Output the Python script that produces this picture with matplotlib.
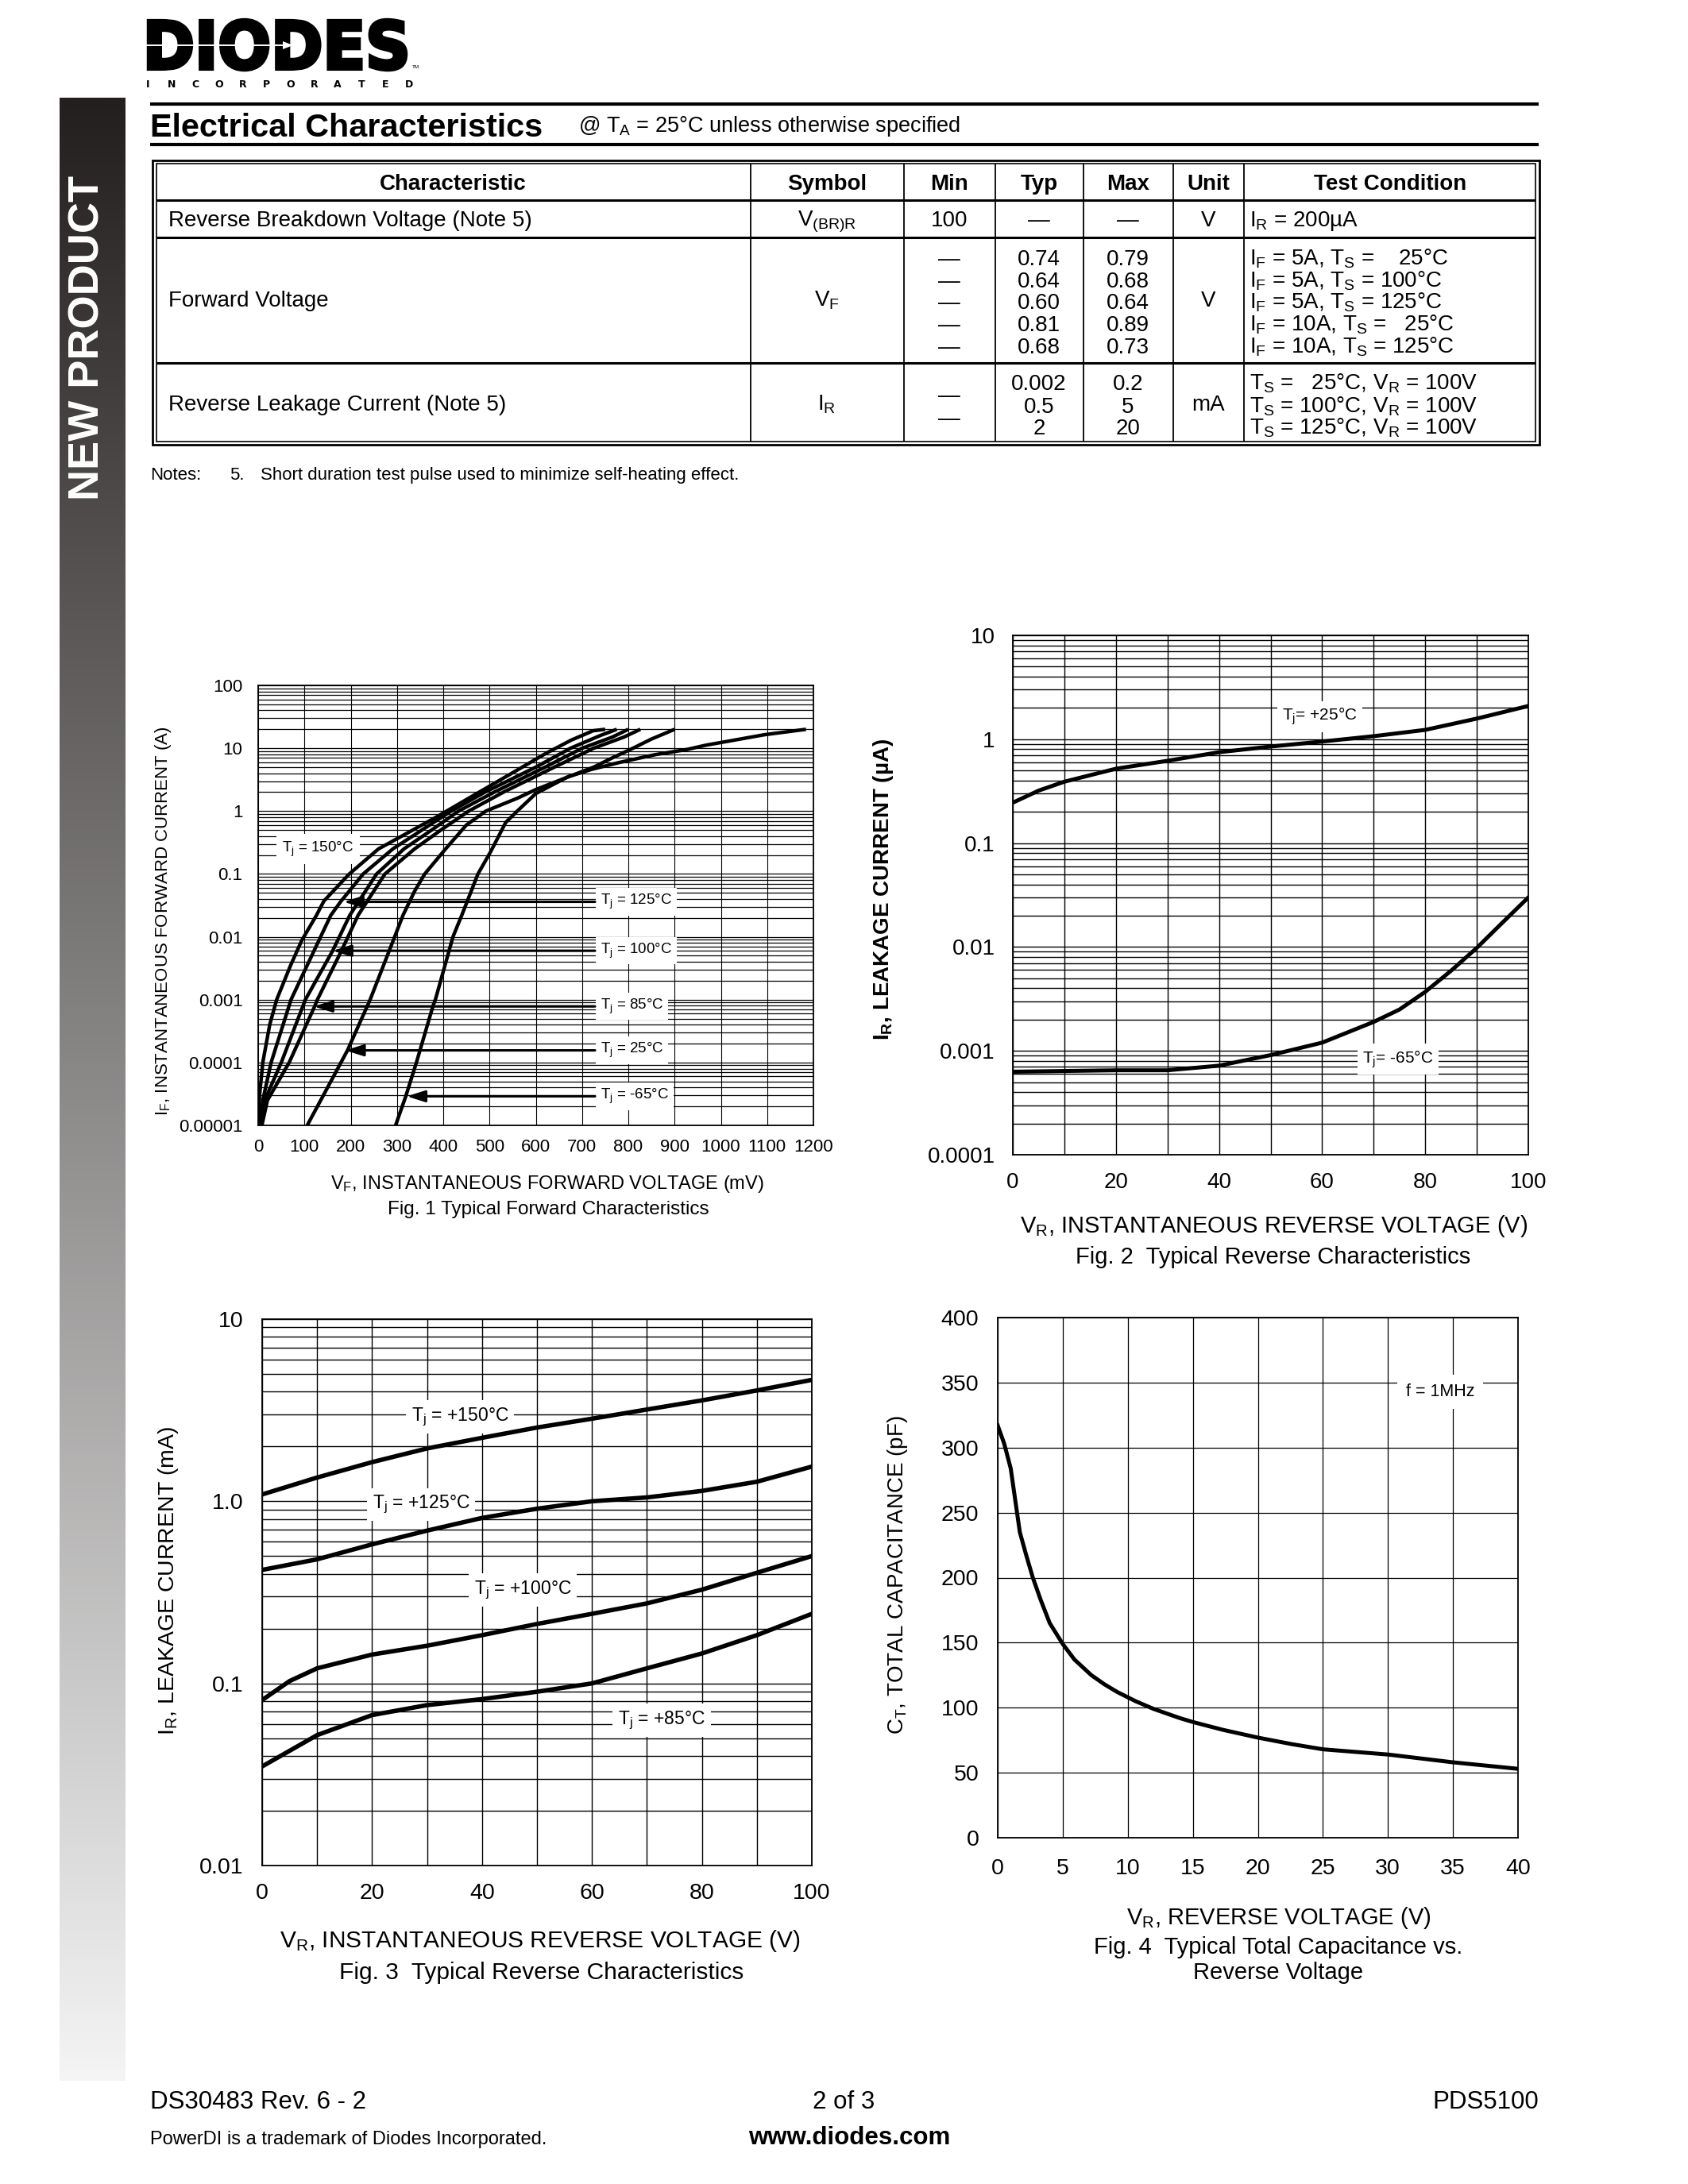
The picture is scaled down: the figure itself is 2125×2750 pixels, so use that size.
import numpy as np
import matplotlib
matplotlib.use('Agg')
import matplotlib.pyplot as plt
from matplotlib.textpath import TextPath
from matplotlib.font_manager import FontProperties
from matplotlib.patches import PathPatch, Polygon, Rectangle
from matplotlib.transforms import Affine2D
from matplotlib.ticker import FixedLocator, LogLocator, NullFormatter

plt.rcParams['font.family'] = ['Liberation Sans', 'DejaVu Sans']
plt.rcParams['mathtext.fontset'] = 'custom'
plt.rcParams['mathtext.rm'] = 'Liberation Sans'
plt.rcParams['mathtext.it'] = 'Liberation Sans:italic'
plt.rcParams['mathtext.bf'] = 'Liberation Sans:bold'

W, H = 2125, 2750

# ---------------- table data ----------------
col_heads = ['Characteristic', 'Symbol', 'Min', 'Typ', 'Max', 'Unit', 'Test Condition']
char_names = ['Reverse Breakdown Voltage (Note 5)', 'Forward Voltage', 'Reverse Leakage Current (Note 5)']
symbols = [r'V$_\mathregular{(BR)R}$', r'V$_\mathregular{F}$', r'I$_\mathregular{R}$']
row_min = [['100'], ['\u2014'] * 5, ['\u2014'] * 2]
row_typ = [['\u2014'], ['0.74', '0.64', '0.60', '0.81', '0.68'], ['0.002', '0.5', '2']]
row_max = [['\u2014'], ['0.79', '0.68', '0.64', '0.89', '0.73'], ['0.2', '5', '20']]
row_unit = ['V', 'V', 'mA']
row_cond = [
    ['I$_\\mathregular{R}$ = 200\u00b5A'],
    [r'I$_\mathregular{F}$ = 5A, T$_\mathregular{S}$ =    25°C',
     r'I$_\mathregular{F}$ = 5A, T$_\mathregular{S}$ = 100°C',
     r'I$_\mathregular{F}$ = 5A, T$_\mathregular{S}$ = 125°C',
     r'I$_\mathregular{F}$ = 10A, T$_\mathregular{S}$ =   25°C',
     r'I$_\mathregular{F}$ = 10A, T$_\mathregular{S}$ = 125°C'],
    [r'T$_\mathregular{S}$ =   25°C, V$_\mathregular{R}$ = 100V',
     r'T$_\mathregular{S}$ = 100°C, V$_\mathregular{R}$ = 100V',
     r'T$_\mathregular{S}$ = 125°C, V$_\mathregular{R}$ = 100V'],
]
note_text = 'Short duration test pulse used to minimize self-heating effect.'

# ---------------- Fig. 1 data (mV, A) ----------------
vf_150 = [0, 3, 10, 25, 40, 70, 94, 126, 142, 197, 260, 323, 386, 464, 543, 622, 677, 724, 750]
if_150 = [1e-5, 3e-5, 1e-4, 4e-4, 1e-3, 3.5e-3, 8.7e-3, 0.022, 0.037, 0.1, 0.25, 0.45, 0.81, 1.75, 3.8, 8.3, 13.5, 19, 20]
vf_125 = [3, 10, 28, 71, 135, 157, 178, 227, 291, 354, 417, 490, 600, 675, 740, 775]
if_125 = [1e-5, 2.5e-5, 1e-4, 1e-3, 1e-2, 0.022, 0.036, 0.1, 0.25, 0.5, 1, 2, 5, 10, 16, 20]
vf_100 = [5, 14, 50, 102, 161, 198, 256, 315, 375, 433, 510, 620, 700, 765, 800]
if_100 = [1e-5, 2.5e-5, 1e-4, 1e-3, 6e-3, 0.022, 0.1, 0.25, 0.5, 1, 2, 5, 10, 15, 20]
vf_85 = [8, 20, 67, 122, 128, 180, 216, 274, 338, 395, 455, 530, 640, 725, 790, 826]
if_85 = [1e-5, 2.5e-5, 1e-4, 7.8e-4, 1e-3, 6e-3, 0.022, 0.1, 0.25, 0.5, 1, 2, 5, 10, 15, 20]
vf_25 = [106, 150, 193, 242, 295, 313, 338, 360, 405, 450, 492, 560, 600, 670, 725, 765, 810, 850, 900]
if_25 = [1e-5, 4e-5, 1.56e-4, 1e-3, 1e-2, 0.022, 0.053, 0.1, 0.25, 0.6, 1, 1.6, 2.2, 3.5, 5, 7, 10, 14, 20]
vf_m65 = [297, 319, 342, 378, 383, 421, 440, 475, 503, 535, 560, 600, 669, 720, 779, 858, 928, 968, 1015, 1094, 1184]
if_m65 = [1e-5, 2.9e-5, 1e-4, 8e-4, 1e-3, 1e-2, 0.022, 0.1, 0.23, 0.66, 1, 1.9, 3.5, 4.6, 5.9, 7.9, 9.6, 11.2, 12.9, 16.4, 20]
fig1_xticks = list(range(0, 1201, 100))
fig1_ydec = [1e-5, 1e-4, 1e-3, 1e-2, 0.1, 1, 10, 100]
fig1_ylabels = ['0.00001', '0.0001', '0.001', '0.01', '0.1', '1', '10', '100']
arrow_labels = ['125°C', '100°C', '85°C', '25°C', '-65°C']
arrow_cur = [0.036, 0.006, 7.8e-4, 1.56e-4, 2.9e-5]
arrow_tip = [185, 161, 120, 188, 321]
arrow_tail = 728

# ---------------- Fig. 2 data (V, uA) ----------------
vr2_25 = [0, 5, 10, 20, 30, 40, 50, 60, 70, 80, 90, 100]
ir2_25 = [0.245, 0.32, 0.39, 0.52, 0.62, 0.75, 0.85, 0.95, 1.07, 1.23, 1.58, 2.09]
vr2_m65 = [0, 10, 20, 30, 40, 45, 50, 60, 70, 75, 80, 85, 90, 95, 100]
ir2_m65 = [6.3e-4, 6.4e-4, 6.5e-4, 6.5e-4, 7.2e-4, 8.1e-4, 9.1e-4, 1.2e-3, 1.9e-3, 2.5e-3, 3.7e-3, 5.9e-3, 9.8e-3, 0.0172, 0.030]
fig2_ydec = [1e-4, 1e-3, 1e-2, 0.1, 1, 10]
fig2_ylabels = ['0.0001', '0.001', '0.01', '0.1', '1', '10']

# ---------------- Fig. 3 data (V, mA) ----------------
vr3 = [0, 10, 20, 30, 40, 50, 60, 70, 80, 90, 100]
ir3_150 = [1.09, 1.35, 1.64, 1.95, 2.23, 2.54, 2.84, 3.19, 3.58, 4.06, 4.64]
ir3_125 = [0.42, 0.48, 0.58, 0.69, 0.81, 0.91, 1.0, 1.05, 1.14, 1.28, 1.55]
vr3_100 = [0, 5, 10, 20, 30, 40, 50, 60, 70, 80, 90, 100]
ir3_100 = [0.081, 0.103, 0.121, 0.144, 0.161, 0.184, 0.212, 0.241, 0.275, 0.327, 0.405, 0.5]
ir3_85 = [0.035, 0.052, 0.067, 0.076, 0.082, 0.090, 0.100, 0.121, 0.146, 0.184, 0.241]
fig3_ydec = [0.01, 0.1, 1, 10]
fig3_ylabels = ['0.01', '0.1', '1.0', '10']

# ---------------- Fig. 4 data (V, pF) ----------------
vr4 = [0, 0.5, 1, 1.3, 1.7, 2.2, 2.7, 3.3, 4, 5, 5.9, 7.2, 8.2, 9.2, 10.6, 12, 14, 15, 17.3, 20, 22.6, 25, 30, 35, 40]
ct4 = [317, 303, 284, 263, 235, 217, 200, 183, 165, 149, 137, 125, 118, 112, 105, 99, 92, 89, 83, 77, 72, 68, 64, 58, 53]

# ============================================================
fig = plt.figure(figsize=(W / 100, H / 100), dpi=100)
page = fig.add_axes([0, 0, 1, 1])
page.axis('off')

# side bar with gradient
top_c = np.array([0x23, 0x1f, 0x1e]) / 255
bot_c = np.array([0xf4, 0xf4, 0xf4]) / 255
t = np.linspace(0, 1, 400)[:, None, None]
grad = top_c * (1 - t) + bot_c * t
page.imshow(grad, extent=[75, 158, 2620, 123], aspect='auto', interpolation='bilinear', zorder=0)
page.set_xlim(0, W)
page.set_ylim(H, 0)
page.text(111, 425, 'NEW PRODUCT', rotation=90, color='white', fontsize=39,
          fontweight='bold', ha='center', va='center')


def cap(size):
    return size * 100 / 72 * 0.716


def put(x, y, s, size, **kw):
    page.text(x, y + cap(size) / 2, s, fontsize=size, va='baseline', **kw)


# logo
fp = FontProperties(family='DejaVu Sans', weight='bold')
tp = TextPath((0, 0), 'DIODES', size=100, prop=fp)
ext = tp.get_extents()
tr = Affine2D().translate(-ext.x0, -ext.y0).scale((511 - 187) / ext.width, -(88 - 25) / ext.height).translate(187, 88)
page.add_patch(PathPatch(tr.transform_path(tp), fc='black', ec='black', lw=3.2, joinstyle='miter'))
page.plot([185, 360], [57, 57], color='white', lw=1.4)
page.add_patch(Polygon([[356, 52], [369, 57], [356, 62]], closed=True, fc='white', ec='none'))
for i, ch in enumerate('INCORPORATED'):
    page.text(186 + i * 29.9, 106, ch, fontsize=9, fontweight='bold', family='DejaVu Sans',
              ha='center', va='center')
page.text(523, 84, 'TM', fontsize=4.5, ha='center', va='center')

# section title
page.plot([189, 1937], [131, 131], color='black', lw=3, solid_capstyle='butt')
page.plot([189, 1937], [182, 182], color='black', lw=3, solid_capstyle='butt')
put(189, 157, 'Electrical Characteristics', 29.8, fontweight='bold')
put(728, 156, r'@ T$_\mathregular{A}$ = 25°C unless otherwise specified', 19.5)

# table frame
page.add_patch(Rectangle((192, 202), 1938 - 192, 560 - 202, fill=False, lw=2, ec='black'))
il, ir, it, ib = 197, 1933, 206, 556
page.add_patch(Rectangle((il, it), ir - il, ib - it, fill=False, lw=1.2, ec='black'))
for y in [252, 299, 457]:
    page.plot([il, ir], [y, y], color='black', lw=2.2, solid_capstyle='butt')
for x in [945, 1138, 1253, 1364, 1477, 1566]:
    page.plot([x, x], [it, ib], color='black', lw=1.3, solid_capstyle='butt')

head_x = [570, 1041, 1195, 1308, 1420, 1521, 1750]
for hx, hd in zip(head_x, col_heads):
    put(hx, 229, hd, 20, fontweight='bold', ha='center')

row_center = [275, 376, 507]
row_lines = [[275], [324, 352, 379, 407, 435], [481, 510, 537]]
min_lines = [[275], [324, 352, 379, 407, 435], [496, 525]]
for r in range(3):
    put(212, row_center[r], char_names[r], 20)
    put(1041, row_center[r], symbols[r], 20, ha='center')
    put(1521, row_center[r], row_unit[r], 20, ha='center')
    for y, s in zip(min_lines[r], row_min[r]):
        put(1195, y, s, 20, ha='center')
    for y, s in zip(row_lines[r], row_typ[r]):
        put(1308, y, s, 20, ha='center')
    for y, s in zip(row_lines[r], row_max[r]):
        put(1420, y, s, 20, ha='center')
    for y, s in zip(row_lines[r], row_cond[r]):
        put(1573, y, s, 20)

put(189, 596, 'Notes:', 16)
put(289, 596, '5.', 16)
put(328, 596, note_text, 16)


# ============================================================
def chart_axes(x0, y0, x1, y1):
    ax = fig.add_axes([x0 / W, 1 - y1 / H, (x1 - x0) / W, (y1 - y0) / H])
    ax.set_axisbelow(True)
    for s in ax.spines.values():
        s.set_linewidth(1.3)
    ax.tick_params(which='both', length=0)
    return ax


def log_y(ax, lo, hi, dec, labels):
    ax.set_yscale('log')
    ax.set_ylim(lo, hi)
    ax.yaxis.set_major_locator(FixedLocator(dec))
    ax.yaxis.set_minor_locator(LogLocator(base=10, subs=np.arange(2, 10), numticks=50))
    ax.yaxis.set_minor_formatter(NullFormatter())
    ax.set_yticklabels(labels)


box = dict(boxstyle='square,pad=0.3', fc='white', ec='none')

# ---- Fig. 1 ----
ax1 = chart_axes(325, 863, 1024, 1417)
ax1.set_xlim(0, 1200)
ax1.set_xticks(fig1_xticks)
log_y(ax1, 1e-5, 100, fig1_ydec, fig1_ylabels)
ax1.grid(True, axis='y', which='both', color='black', lw=0.9)
ax1.grid(True, axis='x', which='major', color='black', lw=0.8)
ax1.tick_params(labelsize=16)
ax1.tick_params(axis='y', pad=14)
ax1.tick_params(axis='x', pad=12)
for v, i in [(vf_150, if_150), (vf_125, if_125), (vf_100, if_100), (vf_85, if_85),
             (vf_25, if_25), (vf_m65, if_m65)]:
    ax1.plot(v, i, color='black', lw=3.2, zorder=4, solid_joinstyle='round', solid_capstyle='butt')
for lab, cur, tip in zip(arrow_labels, arrow_cur, arrow_tip):
    ax1.annotate('', xy=(tip, cur), xytext=(arrow_tail, cur), zorder=5,
                 arrowprops=dict(arrowstyle='-|>,head_length=0.7,head_width=0.22', color='black',
                                 lw=2.2, mutation_scale=20, shrinkA=0, shrinkB=0))
    ax1.text(740, cur, r'T$_\mathregular{j}$ = ' + lab, fontsize=13.5, ha='left', va='center',
             bbox=box, zorder=3)
ax1.text(129, 0.25, r'T$_\mathregular{j}$ = 150°C', fontsize=13.5, ha='center', va='center',
         bbox=dict(boxstyle='square,pad=0.4', fc='white', ec='none'), zorder=3)
page.text(689, 1491, r'V$_\mathregular{F}$, INSTANTANEOUS FORWARD VOLTAGE (mV)', fontsize=17,
          ha='center', va='center')
page.text(690, 1523, 'Fig. 1 Typical Forward Characteristics', fontsize=17.5, ha='center', va='center')
page.text(206, 1160, r'I$_\mathregular{F}$, INSTANTANEOUS FORWARD CURRENT (A)', fontsize=16,
          rotation=90, ha='center', va='center')

# ---- Fig. 2 ----
ax2 = chart_axes(1275, 800, 1924, 1454)
ax2.set_xlim(0, 100)
ax2.set_xticks(range(0, 101, 20))
ax2.set_xticks(range(0, 101, 10), minor=True)
log_y(ax2, 1e-4, 10, fig2_ydec, fig2_ylabels)
ax2.grid(True, which='both', color='black', lw=1.0)
ax2.tick_params(labelsize=20)
ax2.tick_params(axis='y', pad=16)
ax2.tick_params(axis='x', pad=16)
ax2.plot(vr2_25, ir2_25, color='black', lw=3.6, zorder=4)
ax2.plot(vr2_m65, ir2_m65, color='black', lw=3.6, zorder=4)
ax2.text(59.5, 1.66, r'T$_\mathregular{j}$= +25°C', fontsize=15, ha='center', va='center', bbox=box, zorder=3)
ax2.text(74.7, 8.3e-4, r'T$_\mathregular{j}$= -65°C', fontsize=15, ha='center', va='center', bbox=box, zorder=3)
page.text(1604, 1544, r'V$_\mathregular{R}$, INSTANTANEOUS REVERSE VOLTAGE (V)', fontsize=21,
          ha='center', va='center')
page.text(1603, 1583, 'Fig. 2  Typical Reverse Characteristics', fontsize=21, ha='center', va='center')
page.text(1112, 1120, 'I$_\\mathregular{R}$, LEAKAGE CURRENT (\u00b5A)',
          fontsize=20, fontweight='bold', rotation=90, ha='center', va='center')

# ---- Fig. 3 ----
ax3 = chart_axes(330, 1661, 1022, 2349)
ax3.set_xlim(0, 100)
ax3.set_xticks(range(0, 101, 20))
ax3.set_xticks(range(0, 101, 10), minor=True)
log_y(ax3, 0.01, 10, fig3_ydec, fig3_ylabels)
ax3.grid(True, which='both', color='black', lw=1.0)
ax3.tick_params(labelsize=20.5)
ax3.tick_params(axis='y', pad=17)
ax3.tick_params(axis='x', pad=16)
ax3.plot(vr3, ir3_150, color='black', lw=4, zorder=4)
ax3.plot(vr3, ir3_125, color='black', lw=4, zorder=4)
ax3.plot(vr3_100, ir3_100, color='black', lw=4, zorder=4)
ax3.plot(vr3, ir3_85, color='black', lw=4, zorder=4)
for lx, ly, lab in [(36, 2.91, '+150°C'), (28.9, 0.96, '+125°C'), (47.4, 0.326, '+100°C'),
                    (72.7, 0.0628, '+85°C')]:
    ax3.text(lx, ly, r'T$_\mathregular{j}$ = ' + lab, fontsize=16.5, ha='center', va='center',
             bbox=box, zorder=3)
page.text(680, 2444, r'V$_\mathregular{R}$, INSTANTANEOUS REVERSE VOLTAGE (V)', fontsize=21.5,
          ha='center', va='center')
page.text(682, 2484, 'Fig. 3  Typical Reverse Characteristics', fontsize=21.5, ha='center', va='center')
page.text(212, 1990, r'I$_\mathregular{R}$, LEAKAGE CURRENT (mA)', fontsize=20.5, rotation=90,
          ha='center', va='center')

# ---- Fig. 4 ----
ax4 = chart_axes(1256, 1659, 1911, 2314)
ax4.set_xlim(0, 40)
ax4.set_ylim(0, 400)
ax4.set_xticks(range(0, 41, 5))
ax4.set_yticks(range(0, 401, 50))
ax4.grid(True, color='black', lw=0.9)
ax4.tick_params(labelsize=20.5)
ax4.tick_params(axis='y', pad=17)
ax4.tick_params(axis='x', pad=19)
ax4.plot(vr4, ct4, color='black', lw=3.6, zorder=4, solid_joinstyle='round')
ax4.text(34, 343, 'f = 1MHz', fontsize=15.5, ha='center', va='center',
         bbox=dict(boxstyle='square,pad=0.5', fc='white', ec='none'), zorder=3)
page.text(1610, 2415, r'V$_\mathregular{R}$, REVERSE VOLTAGE (V)', fontsize=21, ha='center', va='center')
page.text(1609, 2452, 'Fig. 4  Typical Total Capacitance vs.', fontsize=21, ha='center', va='center')
page.text(1609, 2484, 'Reverse Voltage', fontsize=21, ha='center', va='center')
page.text(1130, 1983, r'C$_\mathregular{T}$, TOTAL CAPACITANCE (pF)', fontsize=20, rotation=90,
          ha='center', va='center')

# ---- footer ----
put(189, 2644, 'DS30483 Rev. 6 - 2', 22.5)
put(1062, 2644, '2 of 3', 22.5, ha='center')
put(1937, 2644, 'PDS5100', 22.5, ha='right')
put(189, 2692, 'PowerDI is a trademark of Diodes Incorporated.', 17)
put(1069, 2689, 'www.diodes.com', 22.5, fontweight='bold', ha='center')

fig.savefig('out.png', dpi=100)
